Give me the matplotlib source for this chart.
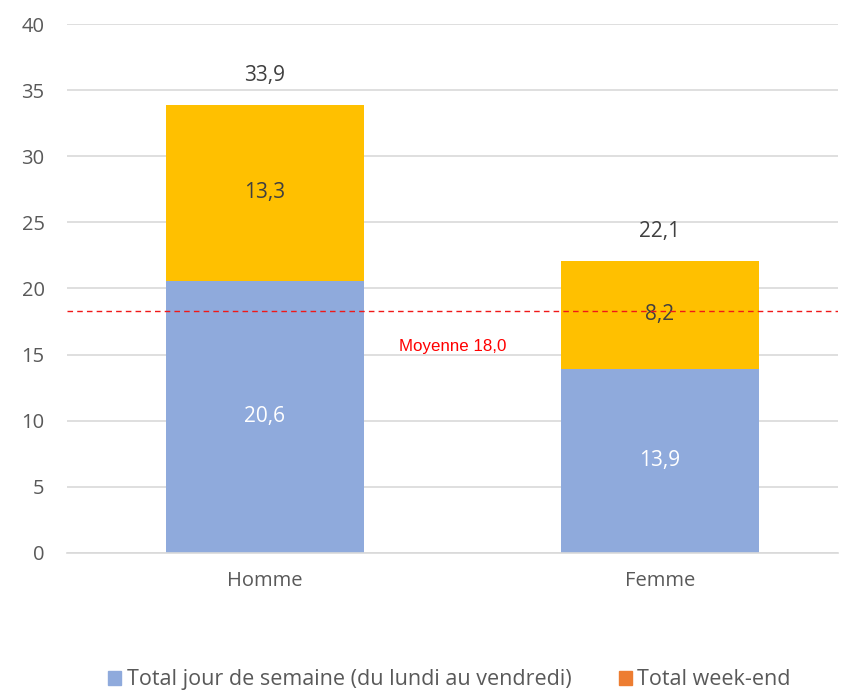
import matplotlib.pyplot as plt
from matplotlib.patches import Patch

plt.rcParams['font.family'] = ['Open Sans', 'DejaVu Sans']

categories = ['Homme', 'Femme']
semaine = [20.6, 13.9]
weekend = [13.3, 8.2]
totaux = [33.9, 22.1]
moyenne_ligne = 18.3
moyenne_label = 'Moyenne 18,0'

col_sem = '#8FAADC'
col_we = '#FFC000'
col_we_leg = '#ED7D31'
gris = '#595959'

fig = plt.figure(figsize=(8.45, 6.91), dpi=100)
ax = fig.add_axes([0.079, 0.2, 0.913, 0.765])

x = range(len(categories))
ax.bar(x, semaine, width=0.5, color=col_sem, zorder=2)
ax.bar(x, weekend, width=0.5, bottom=semaine, color=col_we, zorder=2)

for i in x:
    ax.text(i, semaine[i] / 2, f'{semaine[i]:.1f}'.replace('.', ','),
            ha='center', va='center', color='white', fontsize=15, zorder=3)
    ax.text(i, semaine[i] + weekend[i] / 2, f'{weekend[i]:.1f}'.replace('.', ','),
            ha='center', va='center', color='#404040', fontsize=15, zorder=3)
    ax.text(i, totaux[i] + 2.2, f'{totaux[i]:.1f}'.replace('.', ','),
            ha='center', va='center', color='#404040', fontsize=15, zorder=3)

ax.axhline(moyenne_ligne, color='#F01818', lw=1.0, ls=(0, (4, 3)), zorder=4)
ax.text(0.34, 15.6, moyenne_label, color='#FF0000', fontsize=12.2,
        ha='left', va='center', family=['Liberation Sans', 'DejaVu Sans'])

ax.set_ylim(0, 40)
ax.set_yticks(range(0, 41, 5))
ax.set_xlim(-0.501, 1.451)
ax.set_xticks(list(x))
ax.set_xticklabels(categories)
ax.yaxis.grid(True, color='#D9D9D9', lw=1.2, zorder=0)
ax.set_axisbelow(True)
for s in ['top', 'right', 'left']:
    ax.spines[s].set_visible(False)
ax.spines['bottom'].set_color('#D9D9D9')
ax.spines['bottom'].set_linewidth(1.2)
ax.tick_params(axis='both', length=0, colors=gris, labelsize=14.5)
ax.tick_params(axis='x', pad=13)
ax.tick_params(axis='y', pad=16)

handles = [Patch(color=col_sem, label='Total jour de semaine (du lundi au vendredi)'),
           Patch(color=col_we_leg, label='Total week-end')]
leg = fig.legend(handles=handles, loc='center', bbox_to_anchor=(0.532, 0.016),
                 ncol=2, frameon=False, fontsize=15.5, handlelength=0.6,
                 handleheight=0.6, handletextpad=0.25, columnspacing=2.2)
for t in leg.get_texts():
    t.set_color(gris)

fig.savefig('out.png', dpi=100)
